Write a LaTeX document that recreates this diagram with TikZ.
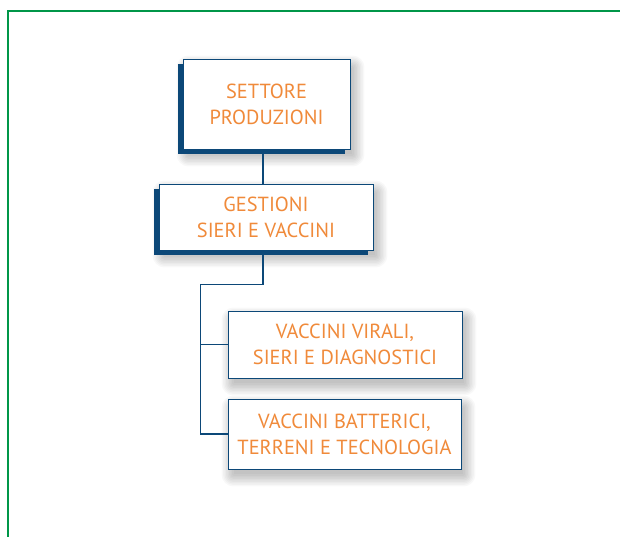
\documentclass[tikz,border=0pt]{standalone}
\usepackage{fontspec}
\setmainfont{PT Sans}
\usetikzlibrary{calc}
\definecolor{framegreen}{RGB}{0,150,72}
\definecolor{navy}{RGB}{12,72,120}
\definecolor{label}{RGB}{240,138,58}
\pgfdeclarelayer{bg}
\pgfsetlayers{bg,main}
\tikzset{
  unitbox/.style={draw=navy, line width=0.9pt, fill=white, align=center,
    text=label, font=\fontsize{20.4}{26}\selectfont, inner sep=0pt},
  backplate/.style={fill=navy},
  link/.style={draw=navy, line width=1.2pt}
}
% soft drop shadow built from stacked translucent rectangles
\newcommand\softshade[1]{%
  \begin{pgfonlayer}{bg}
    \foreach \r in {12,10.5,...,0}{
      \fill[black, fill opacity=0.028, rounded corners=\r pt]
        ($(#1.north west)+(4-\r+2,7-\r+2)$) rectangle ($(#1.south east)+(4+\r-2,7+\r-2)$);
    }
  \end{pgfonlayer}}
\begin{document}
\begin{tikzpicture}[x=1pt, y=-1pt]
  \useasboundingbox (0,0) rectangle (620,536);
  \begin{pgfonlayer}{bg}
    \fill[white] (0,0) rectangle (620,536);
  \end{pgfonlayer}
  % outer frame
  \draw[framegreen, line width=2.2pt] (621,11) -| (8,537);

  % dark offset plates behind the two upper boxes
  \fill[backplate] (178,64) rectangle (345,154);
  \fill[backplate] (154,189) rectangle (368,255);

  \node[unitbox, minimum width=167pt, minimum height=90pt] (box1) at (266.5,104)
    {SETTORE\\PRODUZIONI};
  \node[unitbox, minimum width=214pt, minimum height=66pt] (box2) at (266,217)
    {GESTIONI\\SIERI E VACCINI};
  \node[unitbox, minimum width=234pt, minimum height=67pt] (box3) at (345,344.5)
    {VACCINI VIRALI,\\SIERI E DIAGNOSTICI};
  \node[unitbox, minimum width=233pt, minimum height=70pt] (box4) at (344.5,434)
    {VACCINI BATTERICI,\\TERRENI E TECNOLOGIA};

  \softshade{box1}
  \softshade{box2}
  \softshade{box3}
  \softshade{box4}

  \coordinate (trunk) at (263,0);
  \coordinate (spine) at (200.5,284.5);

  \draw[link] (box1.south -| trunk) -- (box2.north -| trunk);
  \draw[link] (box2.south -| trunk) |- (spine) -- (spine |- box4.west) -- (box4.west);
  \draw[link] (spine |- box3.west) -- (box3.west);
\end{tikzpicture}
\end{document}
